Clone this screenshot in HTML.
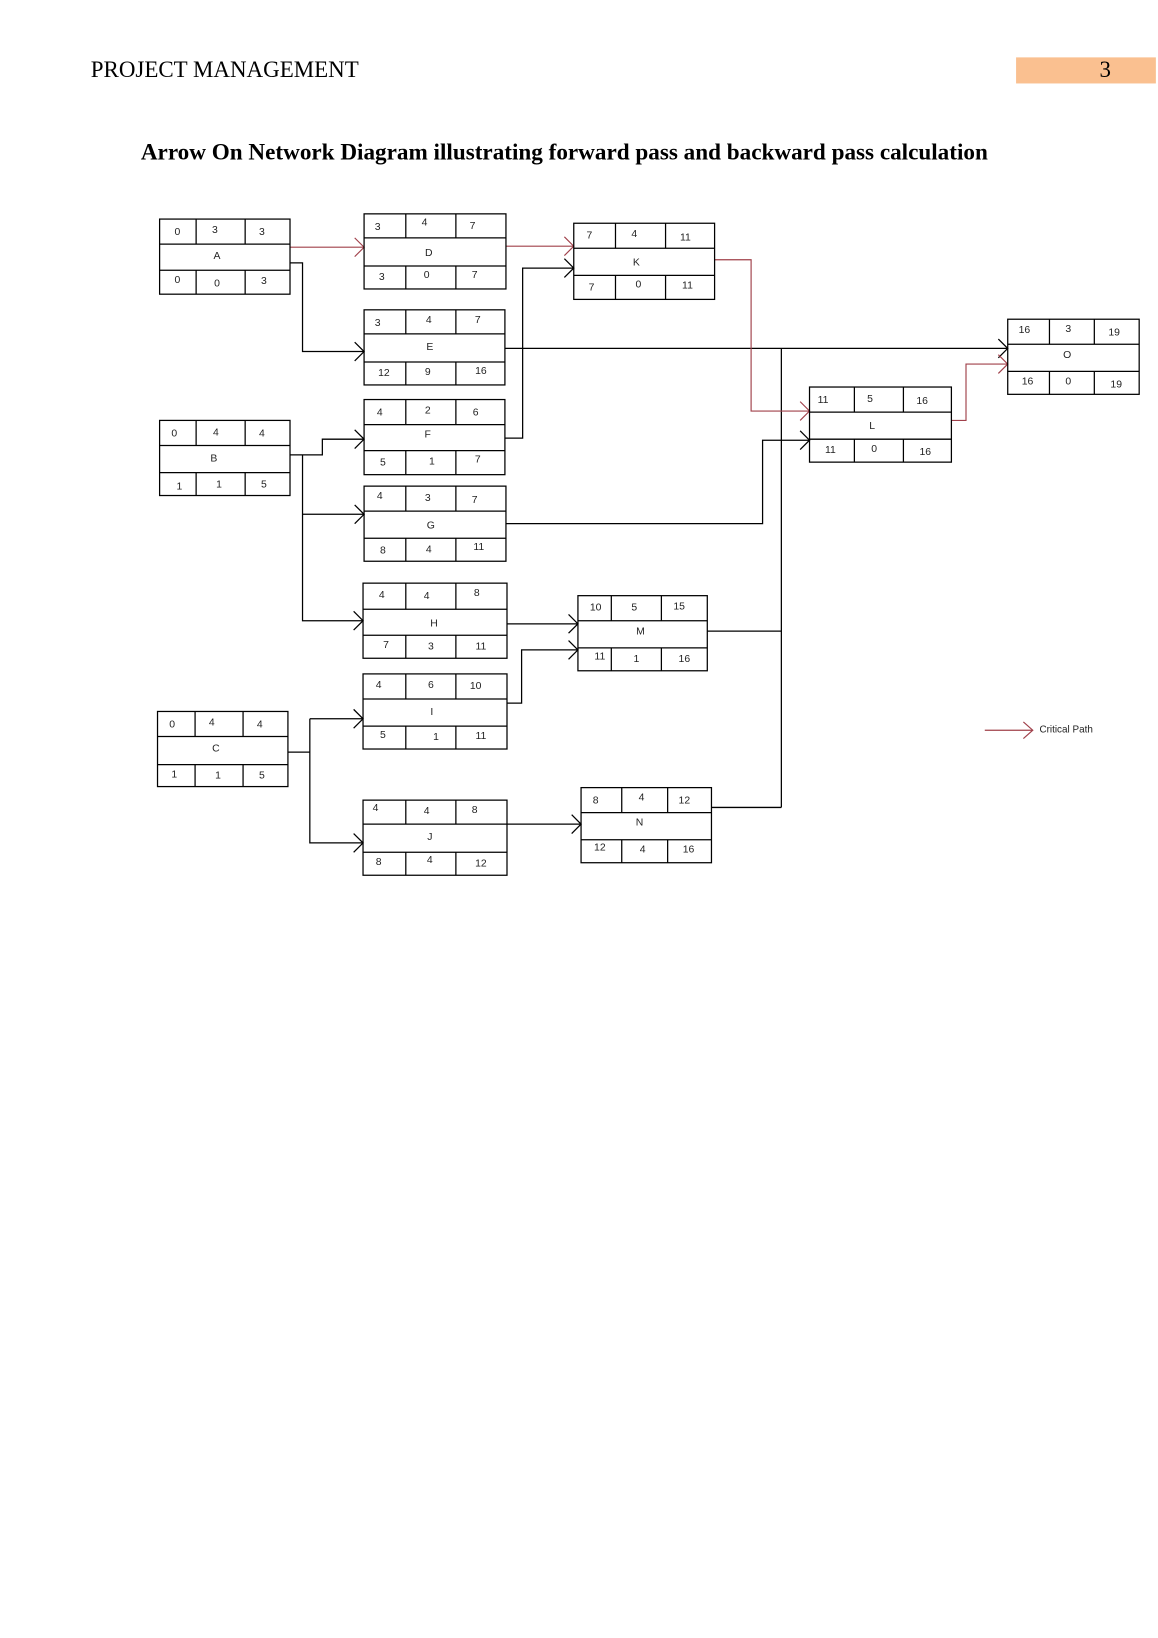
<!DOCTYPE html>
<html><head><meta charset="utf-8"><style>
html,body{margin:0;padding:0;background:#fff;width:1158px;height:1638px;overflow:hidden}
#w{position:absolute;left:0;top:0;width:1110px;height:1570px;transform:scale(1.0432);transform-origin:0 0}
.h{position:absolute;font-family:"Liberation Serif",serif;color:#000}
svg text{font-family:"Liberation Sans",sans-serif;font-size:10px;fill:#222;text-anchor:middle;dominant-baseline:central}
</style></head><body><div id="w">
<div class="h" style="left:87px;top:54px;font-size:22px">PROJECT MANAGEMENT</div>
<div style="position:absolute;left:974px;top:55px;width:134px;height:25px;background:#fac090"></div>
<div class="h" style="left:1054px;top:54px;font-size:22px">3</div>
<div class="h" style="left:135px;top:133px;font-size:22.2px;font-weight:bold">Arrow On Network Diagram illustrating forward pass and backward pass calculation</div>
<svg width="1110" height="1570" style="position:absolute;left:0;top:0">
<g fill="none" stroke="#000" stroke-width="1.2">
<path d="M278 252H290V337H349"/>
<path d="M484 420H501V257H550"/>
<path d="M484 334H966"/>
<path d="M485 502H731V422H776"/>
<path d="M678 605H749M682 774H749M749 334V774"/>
<path d="M278 436H309V421H349"/>
<path d="M290 436V595H348M290 493H349"/>
<path d="M486 598H554"/>
<path d="M486 674H500V623H554"/>
<path d="M276 721H297M297 689V808H348M297 689H348"/>
<path d="M486 790H557"/>
<polyline points="340,328 349,337 340,346"/>
<polyline points="541,248 550,257 541,266"/>
<polyline points="957,325 966,334 957,343"/>
<polyline points="767,413 776,422 767,431"/>
<polyline points="340,412 349,421 340,430"/>
<polyline points="339,586 348,595 339,604"/>
<polyline points="340,484 349,493 340,502"/>
<polyline points="545,589 554,598 545,607"/>
<polyline points="545,614 554,623 545,632"/>
<polyline points="339,680 348,689 339,698"/>
<polyline points="339,799 348,808 339,817"/>
<polyline points="548,781 557,790 548,799"/>
</g>
<g fill="none" stroke="#a0404a" stroke-width="1.1">
<path d="M278 237H349"/><polyline points="340,228 349,237 340,246"/>
<path d="M485 236H550"/><polyline points="541,227 550,236 541,245"/>
<path d="M685 249H720V394H776"/><polyline points="767,385 776,394 767,403"/>
<path d="M912 403H926V349H966"/><polyline points="957,340 966,349 957,358"/>
<path d="M944 700H990"/><polyline points="981,692 990,700 981,708"/>
</g>
<text x="1022" y="700" style="font-size:9.5px">Critical Path</text>
<g fill="none" stroke="#000" stroke-width="1.2">
<rect x="153" y="210" width="125" height="72"/><path d="M153 234H278M153 259H278M188 210V234M235 210V234M188 259V282M235 259V282"/>
<rect x="349" y="205" width="136" height="72"/><path d="M349 228H485M349 255H485M389 205V228M437 205V228M389 255V277M437 255V277"/>
<rect x="550" y="214" width="135" height="73"/><path d="M550 238H685M550 264H685M590 214V238M638 214V238M590 264V287M638 264V287"/>
<rect x="349" y="297" width="135" height="72"/><path d="M349 320H484M349 347H484M389 297V320M437 297V320M389 347V369M437 347V369"/>
<rect x="349" y="383" width="135" height="72"/><path d="M349 407H484M349 432H484M389 383V407M437 383V407M389 432V455M437 432V455"/>
<rect x="349" y="466" width="136" height="72"/><path d="M349 490H485M349 516H485M389 466V490M437 466V490M389 516V538M437 516V538"/>
<rect x="153" y="403" width="125" height="72"/><path d="M153 427H278M153 453H278M188 403V427M235 403V427M188 453V475M235 453V475"/>
<rect x="348" y="559" width="138" height="72"/><path d="M348 584H486M348 609H486M389 559V584M437 559V584M389 609V631M437 609V631"/>
<rect x="554" y="571" width="124" height="72"/><path d="M554 595H678M554 621H678M586 571V595M634 571V595M586 621V643M634 621V643"/>
<rect x="348" y="646" width="138" height="72"/><path d="M348 670H486M348 696H486M389 646V670M437 646V670M389 696V718M437 696V718"/>
<rect x="151" y="682" width="125" height="72"/><path d="M151 706H276M151 733H276M187 682V706M233 682V706M187 733V754M233 733V754"/>
<rect x="348" y="767" width="138" height="72"/><path d="M348 790H486M348 817H486M389 767V790M437 767V790M389 817V839M437 817V839"/>
<rect x="557" y="755" width="125" height="72"/><path d="M557 779H682M557 805H682M596 755V779M640 755V779M596 805V827M640 805V827"/>
<rect x="776" y="371" width="136" height="72"/><path d="M776 395H912M776 421H912M819 371V395M866 371V395M819 421V443M866 421V443"/>
<rect x="966" y="306" width="126" height="72"/><path d="M966 330H1092M966 356H1092M1006 306V330M1049 306V330M1006 356V378M1049 356V378"/>
</g>
<text x="170" y="223">0</text><text x="206" y="221">3</text><text x="251" y="223">3</text><text x="208" y="246">A</text><text x="170" y="269">0</text><text x="208" y="272">0</text><text x="253" y="270">3</text>
<text x="362" y="218">3</text><text x="407" y="214">4</text><text x="453" y="217">7</text><text x="411" y="243">D</text><text x="366" y="266">3</text><text x="409" y="264">0</text><text x="455" y="264">7</text>
<text x="565" y="226">7</text><text x="608" y="225">4</text><text x="657" y="228">11</text><text x="610" y="252">K</text><text x="567" y="276">7</text><text x="612" y="273">0</text><text x="659" y="274">11</text>
<text x="362" y="310">3</text><text x="411" y="307">4</text><text x="458" y="307">7</text><text x="412" y="333">E</text><text x="368" y="358">12</text><text x="410" y="357">9</text><text x="461" y="356">16</text>
<text x="364" y="396">4</text><text x="410" y="394">2</text><text x="456" y="396">6</text><text x="410" y="417">F</text><text x="367" y="444">5</text><text x="414" y="443">1</text><text x="458" y="441">7</text>
<text x="364" y="476">4</text><text x="410" y="478">3</text><text x="455" y="480">7</text><text x="413" y="504">G</text><text x="367" y="528">8</text><text x="411" y="527">4</text><text x="459" y="525">11</text>
<text x="167" y="416">0</text><text x="207" y="415">4</text><text x="251" y="416">4</text><text x="205" y="440">B</text><text x="172" y="467">1</text><text x="210" y="465">1</text><text x="253" y="465">5</text>
<text x="366" y="571">4</text><text x="409" y="572">4</text><text x="457" y="569">8</text><text x="416" y="598">H</text><text x="370" y="619">7</text><text x="413" y="620">3</text><text x="461" y="620">11</text>
<text x="571" y="583">10</text><text x="608" y="583">5</text><text x="651" y="582">15</text><text x="614" y="606">M</text><text x="575" y="630">11</text><text x="610" y="632">1</text><text x="656" y="632">16</text>
<text x="363" y="657">4</text><text x="413" y="657">6</text><text x="456" y="658">10</text><text x="414" y="683">I</text><text x="367" y="705">5</text><text x="418" y="707">1</text><text x="461" y="706">11</text>
<text x="165" y="695">0</text><text x="203" y="693">4</text><text x="249" y="695">4</text><text x="207" y="718">C</text><text x="167" y="743">1</text><text x="209" y="744">1</text><text x="251" y="744">5</text>
<text x="360" y="775">4</text><text x="409" y="778">4</text><text x="455" y="777">8</text><text x="412" y="803">J</text><text x="363" y="827">8</text><text x="412" y="825">4</text><text x="461" y="828">12</text>
<text x="571" y="768">8</text><text x="615" y="765">4</text><text x="656" y="768">12</text><text x="613" y="789">N</text><text x="575" y="813">12</text><text x="616" y="815">4</text><text x="660" y="815">16</text>
<text x="789" y="384">11</text><text x="834" y="383">5</text><text x="884" y="385">16</text><text x="836" y="409">L</text><text x="796" y="432">11</text><text x="838" y="431">0</text><text x="887" y="434">16</text>
<text x="982" y="317">16</text><text x="1024" y="316">3</text><text x="1068" y="319">19</text><text x="1023" y="341">O</text><text x="985" y="366">16</text><text x="1024" y="366">0</text><text x="1070" y="369">19</text>
</svg>
</div></body></html>
